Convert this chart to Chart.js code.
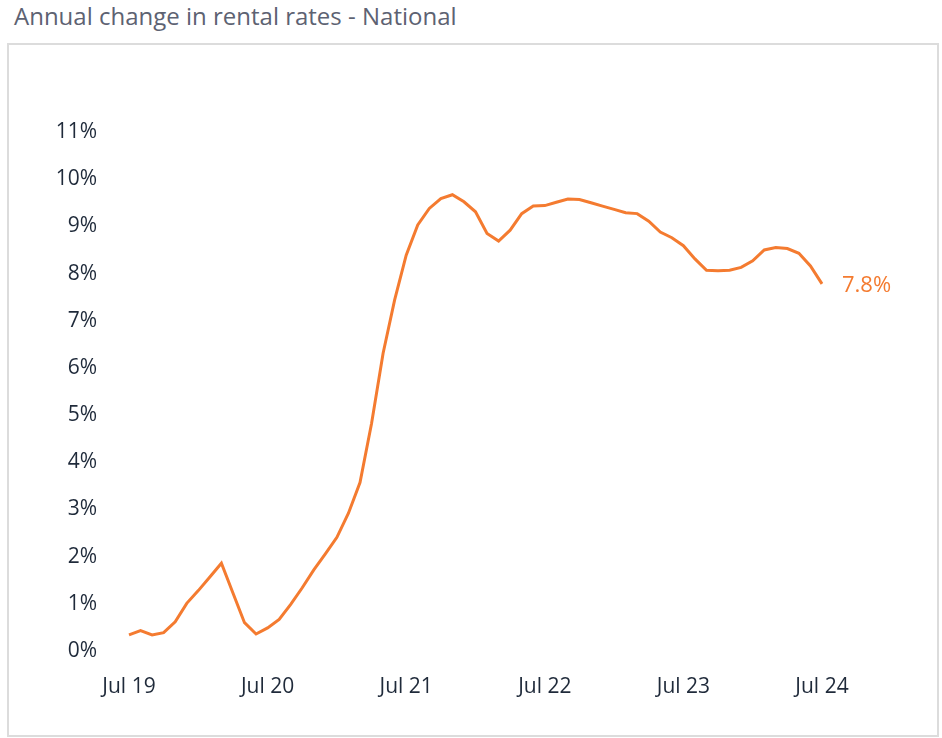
<!DOCTYPE html>
<html>
<head>
<meta charset="utf-8">
<script src="https://cdn.jsdelivr.net/npm/chart.js@4.4.1/dist/chart.umd.min.js"></script>
<style>
  html, body { margin: 0; padding: 0; background: #fff; }
  body { width: 942px; height: 738px; position: relative; overflow: hidden; font-family: "Open Sans", sans-serif; }
  #title { position: absolute; left: 14px; top: 4px; font-size: 24px; line-height: 24px; color: #5d6272; white-space: nowrap; }
  #box { position: absolute; left: 7px; top: 43px; width: 928px; height: 690px; border: 2px solid #dcdcdc; }
  #wrap { position: absolute; left: 0; top: 0; width: 942px; height: 738px; }
</style>
</head>
<body>
<div id="title">Annual change in rental rates - National</div>
<div id="box"></div>
<div id="wrap"><canvas id="c"></canvas></div>
<script>
const months = ["Jul","Aug","Sep","Oct","Nov","Dec","Jan","Feb","Mar","Apr","May","Jun"];
const startYear = 19;
const categories = [];
for (let i = 0; i < 61; i++) {
  const m = months[i % 12];
  const yr = startYear + Math.floor((i + 6) / 12);
  categories.push(m + " " + yr);
}
const rentalChange = [
  0.34, 0.43, 0.34, 0.39, 0.62, 1.01, 1.28, 1.57, 1.86, 1.23, 0.60, 0.36,
  0.49, 0.67, 0.99, 1.34, 1.72, 2.06, 2.41, 2.92, 3.57, 4.82, 6.31, 7.44,
  8.39, 9.03, 9.38, 9.59, 9.67, 9.52, 9.31, 8.85, 8.69, 8.92, 9.27, 9.43,
  9.44, 9.51, 9.58, 9.57, 9.50, 9.43, 9.36, 9.29, 9.27, 9.11, 8.88, 8.76,
  8.59, 8.31, 8.07, 8.06, 8.07, 8.13, 8.27, 8.50, 8.55, 8.53, 8.43, 8.16,
  7.78
];
const yTicks = [0,1,2,3,4,5,6,7,8,9,10,11];
const xTickLabels = ["Jul 19","Jul 20","Jul 21","Jul 22","Jul 23","Jul 24"];

const ORANGE = "#f47b30";
const TICK_COLOR = "#1f2a3a";

const endLabel = {
  id: "endLabel",
  afterDatasetsDraw(chart) {
    const meta = chart.getDatasetMeta(0);
    const pt = meta.data[meta.data.length - 1];
    const v = rentalChange[rentalChange.length - 1];
    const ctx = chart.ctx;
    ctx.save();
    ctx.fillStyle = ORANGE;
    ctx.font = '22px "Open Sans", sans-serif';
    ctx.textAlign = "left";
    ctx.textBaseline = "middle";
    ctx.fillText(v.toFixed(1) + "%", pt.x + 20, pt.y + 2);
    ctx.restore();
  }
};

new Chart(document.getElementById("c"), {
  type: "line",
  data: {
    labels: categories,
    datasets: [{
      data: rentalChange,
      borderColor: ORANGE,
      borderWidth: 3,
      pointRadius: 0,
      pointHoverRadius: 0,
      tension: 0,
      fill: false
    }]
  },
  options: {
    responsive: true,
    maintainAspectRatio: false,
    animation: false,
    layout: { padding: { left: 0, top: 132, right: 120, bottom: 27 } },
    plugins: { legend: { display: false }, tooltip: { enabled: false } },
    scales: {
      x: {
        grid: { display: false, drawTicks: false },
        border: { display: false },
        afterFit(scale) { scale.height = 60; },
        ticks: {
          autoSkip: false,
          maxRotation: 0,
          minRotation: 0,
          padding: 23,
          color: TICK_COLOR,
          font: { family: "Open Sans", size: 21 },
          callback(value, index) {
            const lab = categories[index];
            return xTickLabels.includes(lab) ? lab : "";
          }
        }
      },
      y: {
        min: 0,
        max: 11,
        grid: { display: false, drawTicks: false },
        border: { display: false },
        afterFit(scale) { scale.width = 129; },
        afterBuildTicks(scale) { scale.ticks = yTicks.map(v => ({ value: v })); },
        ticks: {
          padding: 32,
          color: TICK_COLOR,
          font: { family: "Open Sans", size: 21 },
          callback(v) { return v + "%"; }
        }
      }
    }
  },
  plugins: [endLabel]
});
</script>
</body>
</html>
